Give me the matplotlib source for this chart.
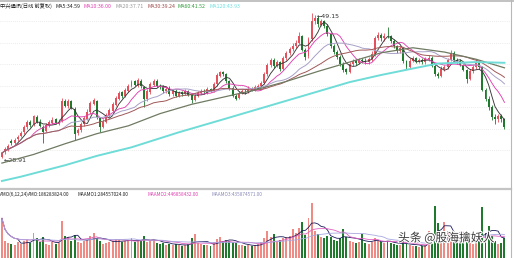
import numpy as np
import pandas as pd
import matplotlib
matplotlib.use("Agg")
import matplotlib.pyplot as plt
import matplotlib.patheffects as pe

# daily candles (前复权)
opens = [
    29.1, 29.7, 30.1, 31.3, 31.0, 31.5, 32.0, 32.5, 33.2, 34.0,
    33.6, 34.7, 34.0, 33.3, 32.7, 33.5, 33.8, 34.3, 33.7, 34.1,
    36.9, 36.1, 36.8, 35.8, 32.4, 32.8, 33.6, 34.4, 35.3, 36.5,
    36.8, 34.5, 33.3, 34.0, 34.8, 35.5, 36.3, 37.2, 38.1, 37.6,
    38.3, 39.0, 39.6, 39.0, 39.7, 38.8, 37.2, 38.1, 39.1, 39.7,
    39.0, 38.9, 38.2, 38.7, 37.8, 38.3, 37.6, 38.1, 37.9, 38.2,
    37.7, 37.0, 37.6, 38.0, 38.3, 38.1, 38.5, 38.3, 39.2, 40.4,
    40.9, 40.6, 39.6, 38.7, 37.6, 37.3, 38.0, 38.3, 38.2, 38.6,
    38.4, 38.8, 39.0, 39.4, 40.6, 41.9, 42.6, 41.8, 42.3, 41.4,
    42.8, 43.6, 44.1, 44.6, 45.0, 45.9, 44.0, 43.1, 45.5, 48.1,
    48.4, 47.5, 48.0, 47.4, 46.2, 44.5, 43.7, 43.0, 42.0, 41.3,
    40.9, 42.0, 42.4, 42.2, 42.6, 42.5, 42.3, 42.7, 43.4, 45.7,
    46.1, 45.6, 46.0, 45.9, 45.3, 44.5, 43.9, 44.2, 42.4, 41.6,
    42.5, 42.8, 42.4, 42.6, 42.3, 42.7, 42.9, 41.8, 40.6, 40.4,
    41.4, 41.6, 42.6, 43.6, 42.6, 42.4, 41.9, 41.2, 40.0, 41.0,
    41.6, 42.3, 41.6, 38.4, 37.2, 36.0, 34.6, 34.3, 34.8, 34.3,
]
closes = [
    29.6, 30.2, 30.6, 31.0, 31.4, 31.9, 32.4, 33.2, 33.9, 33.5,
    34.8, 34.0, 33.4, 32.6, 33.5, 33.9, 34.2, 33.8, 34.0, 36.8,
    36.2, 36.9, 35.9, 32.3, 32.8, 33.6, 34.5, 35.4, 36.6, 37.0,
    34.6, 33.2, 34.0, 34.9, 35.6, 36.4, 37.3, 38.0, 37.6, 38.4,
    39.0, 39.5, 39.1, 39.8, 38.9, 37.1, 38.2, 39.2, 39.6, 39.0,
    38.8, 38.2, 38.6, 37.8, 38.3, 37.6, 38.0, 37.9, 38.2, 37.7,
    37.0, 37.6, 38.0, 38.3, 38.1, 38.5, 38.3, 39.2, 40.5, 40.9,
    40.6, 39.6, 38.6, 37.6, 37.2, 38.0, 38.3, 38.2, 38.6, 38.4,
    38.8, 39.0, 39.4, 40.6, 41.9, 42.6, 41.8, 42.3, 41.4, 42.8,
    43.6, 44.1, 44.6, 45.0, 46.0, 44.0, 43.0, 45.5, 48.0, 48.4,
    47.6, 48.0, 47.4, 46.2, 44.5, 43.7, 43.0, 42.0, 41.2, 40.9,
    42.0, 42.4, 42.2, 42.6, 42.5, 42.3, 42.7, 43.4, 45.7, 46.1,
    45.6, 46.0, 45.9, 45.3, 44.5, 43.9, 44.2, 42.4, 41.6, 42.5,
    42.8, 42.4, 42.6, 42.3, 42.7, 42.9, 41.8, 40.6, 40.4, 41.4,
    41.6, 42.6, 43.6, 42.6, 42.4, 41.9, 41.2, 40.0, 41.0, 41.6,
    42.3, 41.6, 38.4, 37.2, 36.0, 34.6, 34.3, 34.8, 34.3, 33.2,
]
highs = [
    29.8, 30.4, 30.9, 31.5, 31.7, 32.1, 32.7, 33.5, 34.2, 34.2,
    34.9, 34.9, 34.3, 33.5, 33.8, 34.2, 34.6, 34.5, 34.3, 37.3,
    37.1, 37.2, 37.0, 36.0, 33.1, 33.9, 34.8, 35.7, 36.9, 37.3,
    37.0, 34.7, 34.3, 35.2, 35.9, 36.7, 37.6, 38.3, 38.3, 38.7,
    39.3, 39.8, 39.8, 40.1, 39.9, 39.0, 38.5, 39.5, 39.9, 39.9,
    39.3, 39.1, 38.9, 38.9, 38.6, 38.5, 38.3, 38.3, 38.5, 38.4,
    37.9, 37.8, 38.2, 38.6, 38.5, 38.8, 38.7, 39.5, 40.8, 41.1,
    41.0, 40.8, 39.8, 38.9, 37.8, 38.3, 38.6, 38.5, 38.9, 38.8,
    39.1, 39.3, 39.7, 40.9, 42.2, 42.9, 42.8, 42.6, 42.5, 43.1,
    43.9, 44.4, 44.9, 45.4, 46.5, 46.1, 44.3, 45.8, 49.15, 48.9,
    48.7, 48.3, 48.2, 47.6, 46.4, 44.8, 44.0, 43.3, 42.3, 41.5,
    42.3, 42.7, 42.7, 42.9, 42.9, 42.8, 43.0, 43.8, 46.0, 46.5,
    46.4, 46.3, 47.2, 46.1, 45.5, 44.7, 44.5, 44.4, 42.6, 42.8,
    43.1, 43.0, 42.9, 42.8, 43.0, 43.3, 43.1, 42.0, 40.9, 41.7,
    41.9, 42.9, 44.0, 43.8, 42.9, 42.7, 42.1, 41.4, 41.3, 41.9,
    42.6, 42.5, 41.8, 38.7, 37.5, 36.3, 35.0, 35.1, 35.1, 34.5,
]
lows = [
    28.91, 29.5, 29.9, 30.7, 30.8, 31.3, 31.8, 32.3, 33.0, 33.2,
    33.4, 33.8, 33.2, 31.0, 32.5, 33.3, 33.6, 33.6, 33.5, 33.9,
    36.0, 35.9, 35.7, 31.4, 32.1, 32.6, 33.4, 34.2, 35.1, 36.3,
    34.4, 32.5, 33.1, 33.8, 34.6, 35.3, 36.1, 37.0, 37.3, 37.4,
    38.1, 38.8, 38.9, 38.8, 38.7, 36.0, 36.9, 37.9, 38.9, 38.8,
    38.6, 38.0, 38.0, 37.6, 37.6, 37.4, 37.4, 37.6, 37.7, 37.5,
    36.6, 36.9, 37.4, 37.8, 37.9, 37.9, 38.1, 38.1, 39.0, 40.2,
    40.3, 39.4, 38.4, 37.4, 37.0, 37.1, 37.8, 37.9, 38.0, 38.2,
    38.2, 38.6, 38.8, 39.2, 40.4, 41.6, 41.5, 41.6, 41.1, 41.2,
    42.6, 43.3, 43.9, 44.3, 44.8, 43.8, 42.6, 42.9, 45.3, 47.6,
    47.2, 47.3, 47.1, 45.9, 44.2, 43.4, 42.7, 41.7, 40.9, 40.7,
    40.8, 41.8, 41.9, 42.0, 42.2, 42.0, 42.1, 42.5, 43.2, 45.4,
    45.3, 45.3, 45.6, 45.0, 44.2, 43.6, 43.6, 42.2, 41.3, 41.4,
    42.3, 42.2, 42.2, 42.0, 42.1, 42.5, 41.6, 40.4, 40.1, 40.2,
    41.1, 41.4, 42.4, 42.3, 42.1, 41.7, 41.0, 39.4, 39.8, 40.8,
    41.4, 41.3, 38.2, 36.9, 35.6, 34.2, 33.7, 33.9, 34.0, 33.0,
]
# AMO (turnover), in 1e8 yuan
amo = [
    6.9, 3.0, 2.6, 2.4, 2.2, 2.8, 2.5, 3.0, 3.2, 2.6,
    4.4, 3.4, 2.8, 3.6, 2.5, 2.3, 2.7, 2.4, 2.6, 6.5,
    3.8, 3.6, 3.0, 4.0, 2.8, 2.6, 3.0, 3.2, 3.8, 4.4,
    3.5, 3.0, 2.5, 2.6, 2.8, 3.0, 3.3, 3.1, 2.7, 2.9,
    3.2, 3.4, 2.8, 3.1, 3.0, 3.9, 2.8, 3.0, 3.2, 2.6,
    2.5, 2.6, 2.3, 2.5, 2.2, 2.4, 2.2, 2.1, 2.3, 2.4,
    3.4, 4.2, 2.6, 2.4, 2.2, 2.3, 2.1, 2.8, 3.3, 3.6,
    3.0, 3.2, 2.9, 2.7, 2.6, 2.3, 2.2, 2.0, 2.2, 2.1,
    2.3, 2.4, 2.8, 3.5, 4.7, 3.6, 4.2, 3.0, 3.2, 3.4,
    3.6, 3.8, 5.1, 4.4, 5.3, 6.2, 4.0, 6.9, 9.5, 4.7,
    4.2, 3.6, 3.4, 3.8, 3.6, 3.2, 3.0, 3.5, 5.1, 3.6,
    3.0, 2.8, 2.6, 2.7, 4.2, 2.6, 2.4, 2.8, 3.4, 3.0,
    2.8, 2.6, 3.0, 2.6, 2.4, 2.3, 2.2, 3.0, 2.5, 2.2,
    2.0, 2.1, 1.9, 2.0, 2.2, 4.7, 4.0, 9.1, 6.0, 3.6,
    6.2, 4.7, 3.8, 3.0, 2.8, 3.2, 2.6, 3.5, 2.7, 2.5,
    2.9, 3.1, 8.8, 4.4, 5.6, 3.8, 3.0, 2.4, 2.6, 3.4,
]
# long averages need history from before the window, so read them as knots
ma60_idx = [0, 10, 20, 30, 40, 50, 60, 70, 80, 90, 100, 110, 120, 130, 140, 150, 159]
ma60_val = [28.2, 29.4, 30.9, 32.3, 33.4, 35.1, 36.4, 37.4, 38.4, 39.6, 41.0, 42.3,
            43.6, 44.3, 43.7, 42.7, 41.5]
ma120_idx = [0, 6, 20, 30, 41, 56, 70, 80, 90, 100, 110, 120, 130, 138, 150, 159]
ma120_val = [25.7, 26.3, 27.9, 29.2, 30.4, 32.5, 34.3, 35.6, 36.9, 38.2, 39.5, 40.5,
             41.4, 42.1, 42.3, 42.2]

header = [("中兴通讯(日线 前复权)", "#202020"), ("MA5:34.59", "#202020"),
          ("MA10:36.00", "#e040b0"), ("MA20:37.71", "#9a9a9a"),
          ("MA30:39.24", "#a04848"), ("MA60:41.52", "#2f9a3a"),
          ("MA120:43.93", "#70e0e0")]
header_x = [0, 55, 83, 115, 147, 178, 210]
amo_header = [("AMO(6,12,24)", "#202020"), ("AMO:186283824.00", "#202020"),
              ("MAAMO1:284557024.00", "#202020"), ("MAAMO2:446858432.00", "#e040b0"),
              ("MAAMO3:435874571.00", "#8a8ab8")]
amo_header_x = [0, 28, 77, 147, 212]

W, H = 514, 258
fig = plt.figure(figsize=(W / 100, H / 100), dpi=100)
cjk = ["Noto Sans CJK SC", "DejaVu Sans"]


def px_axes(x0, y0, x1, y1):
    return fig.add_axes([x0 / W, 1 - y1 / H, (x1 - x0) / W, (y1 - y0) / H])


ax = px_axes(0, 9, 510, 187)
axv = px_axes(0, 197, 510, 258)
for a in (ax, axv):
    a.set_axis_off()
    a.set_xlim(-0.6, 160.75)
ax.set_ylim(24.86, 49.71)
axv.set_ylim(0, 10.6)

o = np.array(opens)
c = np.array(closes)
x = np.arange(len(c))
up = c >= o
red, green = "#e4505c", "#1f7a2e"
cols = np.where(up, red, green)

for p in [30, 33, 36, 39, 42, 45, 48]:
    ax.axhline(p, color="#d8d8d8", lw=0.5, ls=(0, (1, 2)), zorder=0)

ax.vlines(x, lows, highs, colors=cols, lw=0.6, zorder=3)
ax.bar(x, np.maximum(np.abs(c - o), 0.06), bottom=np.minimum(o, c), width=0.62,
       color=cols, lw=0, zorder=3)

s = pd.Series(c)
ax.plot(x, s.rolling(5, min_periods=1).mean(), color="#383838", lw=0.65, zorder=4)
ax.plot(x, s.rolling(10, min_periods=1).mean(), color="#e040b0", lw=0.65, zorder=4)
ax.plot(x, s.rolling(20, min_periods=1).mean(), color="#a8a0c8", lw=0.7, zorder=4)
ax.plot(x, s.rolling(30, min_periods=1).mean(), color="#a05858", lw=0.7, zorder=4)
ax.plot(ma60_idx, ma60_val, color="#6f7a62", lw=0.9, zorder=4)
ax.plot(ma120_idx, ma120_val, color="#6fdcd8", lw=1.4, zorder=4)

ax.text(99.6, 48.6, "←49.15", fontsize=4.5, color="#303030", va="center")
ax.text(0.6, 28.6, "←28.91", fontsize=4.5, color="#303030", va="center")

# volume panel
vcols = np.where(up, "#f08a84", green)
axv.bar(x, amo, width=0.62, color=vcols, lw=0)
v = pd.Series(amo)
axv.plot(x, v.rolling(6, min_periods=1).mean(), color="#1c1c5c", lw=0.6)
axv.plot(x, v.rolling(12, min_periods=1).mean(), color="#e060c0", lw=0.6)
axv.plot(x, v.rolling(24, min_periods=1).mean(), color="#a8a8e0", lw=0.6)

# header rows
for (t, col), xp in zip(header, header_x):
    fig.text(xp / W, 1 - 6.5 / H, t, fontsize=3.8, color=col, family=cjk, va="center")
for (t, col), xp in zip(amo_header, amo_header_x):
    fig.text(xp / W, 1 - 194 / H, t, fontsize=3.4, color=col, family=cjk, va="center")

# frame lines
fig.add_artist(plt.Line2D([0, 1], [1 - 1 / H] * 2, color="#b8b8b8", lw=1.2))
fig.add_artist(plt.Line2D([0, 511 / W], [1 - 189 / H] * 2, color="#c4c4c4", lw=1.6))
fig.add_artist(plt.Line2D([511 / W] * 2, [0, 1], color="#b8b8b8", lw=0.8))

fig.text(398 / W, 1 - 238 / H, "头条 @股海擒妖人", fontsize=8.5, color="#3a3a3a",
         family=cjk, va="center",
         path_effects=[pe.withStroke(linewidth=1.5, foreground="white")])

fig.savefig("out.png", dpi=100)
